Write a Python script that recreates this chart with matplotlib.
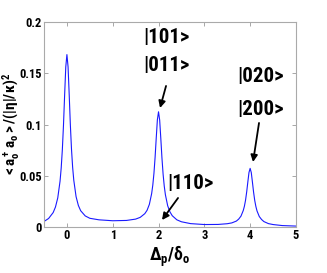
import numpy as np
import matplotlib
matplotlib.use('Agg')
import matplotlib.pyplot as plt
from matplotlib import font_manager

# values
detuning = [-0.5, -0.4, -0.3, -0.25, -0.2, -0.15, -0.125, -0.1, -0.075, -0.05, -0.025,
            0.0, 0.025, 0.05, 0.075, 0.1, 0.125, 0.15, 0.2, 0.25, 0.3, 0.4, 0.5, 0.7,
            1.0, 1.3, 1.5, 1.6, 1.7, 1.75, 1.8, 1.85, 1.875, 1.9, 1.925, 1.95, 1.975,
            2.0, 2.025, 2.05, 2.075, 2.1, 2.125, 2.15, 2.2, 2.25, 2.3, 2.4, 2.5, 2.7,
            3.0, 3.3, 3.5, 3.6, 3.7, 3.75, 3.8, 3.85, 3.875, 3.9, 3.925, 3.95, 3.975,
            4.0, 4.025, 4.05, 4.075, 4.1, 4.125, 4.15, 4.2, 4.25, 4.3, 4.4, 4.5, 4.7, 5.0]
population = [0.0054, 0.0083, 0.0141, 0.0195, 0.0284, 0.0447, 0.0575, 0.0753, 0.0993, 0.1286, 0.1561,
              0.1682, 0.1563, 0.1290, 0.0998, 0.0759, 0.0582, 0.0456, 0.0296, 0.0210, 0.0159, 0.0108, 0.0085, 0.0070,
              0.0061, 0.0064, 0.0077, 0.0094, 0.0130, 0.0163, 0.0221, 0.0326, 0.0409, 0.0524, 0.0679, 0.0868, 0.1046,
              0.1124, 0.1043, 0.0863, 0.0672, 0.0515, 0.0399, 0.0315, 0.0207, 0.0147, 0.0110, 0.0070, 0.0051, 0.0033,
              0.0024, 0.0025, 0.0032, 0.0040, 0.0058, 0.0077, 0.0106, 0.0161, 0.0203, 0.0262, 0.0343, 0.0440, 0.0532,
              0.0572, 0.0531, 0.0438, 0.0341, 0.0260, 0.0201, 0.0157, 0.0102, 0.0073, 0.0053, 0.0033, 0.0024, 0.0014, 0.0009]

xticks = [0, 1, 2, 3, 4, 5]
yticks = [0, 0.05, 0.1, 0.15, 0.2]
ytick_labels = ['0', '0.05', '0.1', '0.15', '0.2']

# pick a narrow bold face if there is one
names = {f.name for f in font_manager.fontManager.ttflist}
narrow = [n for n in ['Liberation Sans Narrow', 'Arial Narrow', 'Roboto Condensed',
                      'Open Sans Condensed', 'DejaVu Sans'] if n in names]
plt.rcParams['font.family'] = narrow + ['DejaVu Sans']
plt.rcParams['font.stretch'] = 'condensed'
plt.rcParams['font.weight'] = 'bold'
plt.rcParams['mathtext.fontset'] = 'custom'
mfont = narrow[0] + ':bold'
plt.rcParams['mathtext.rm'] = mfont
plt.rcParams['mathtext.it'] = mfont
plt.rcParams['mathtext.bf'] = mfont

fig = plt.figure(figsize=(3.27, 2.73), dpi=100)
ax = fig.add_axes([0.1346, 0.1685, 0.7704, 0.7509])
ax.plot(detuning, population, color='#1a1aff', lw=0.8)

ax.set_xlim(-0.5, 5)
ax.set_ylim(0, 0.2)
ax.set_xticks(xticks)
ax.set_xticklabels([str(t) for t in xticks])
ax.set_yticks(yticks)
ax.set_yticklabels(ytick_labels)
ax.tick_params(direction='in', top=True, right=True, length=3, width=0.6,
               color='#999999', labelsize=9, pad=1.5)
for lab in ax.get_xticklabels() + ax.get_yticklabels():
    lab.set_fontweight('bold')
for s in ax.spines.values():
    s.set_color('#aaaaaa')
    s.set_linewidth(0.8)

ax.set_ylabel(r'$\mathrm{<a_o^+\,a_o>/(|\eta|/\kappa)^2}$', fontsize=11)
ax.yaxis.set_label_coords(-0.088, 0.5)
ax.set_xlabel(r'$\mathrm{\Delta_p/\delta_o}$', fontsize=13, labelpad=1)

tsize = 15
ax.text(2.164, 0.1844, '|101>', fontsize=tsize, fontweight='bold', ha='center', va='center')
ax.text(2.164, 0.158, '|011>', fontsize=tsize, fontweight='bold', ha='center', va='center')
ax.text(4.238, 0.1473, '|020>', fontsize=tsize, fontweight='bold', ha='center', va='center')
ax.text(4.238, 0.1151, '|200>', fontsize=tsize, fontweight='bold', ha='center', va='center')
ax.text(2.688, 0.0429, '|110>', fontsize=tsize, fontweight='bold', ha='center', va='center')

arrow = dict(arrowstyle='-|>', color='black', lw=1.3, mutation_scale=10, shrinkA=0, shrinkB=0)
ax.annotate('', xy=(2.033, 0.1161), xytext=(2.164, 0.1376), arrowprops=arrow)
ax.annotate('', xy=(4.063, 0.0634), xytext=(4.194, 0.1015), arrowprops=arrow)
ax.annotate('', xy=(2.076, 0.0068), xytext=(2.426, 0.0283), arrowprops=arrow)

fig.savefig('out.png', dpi=100)
